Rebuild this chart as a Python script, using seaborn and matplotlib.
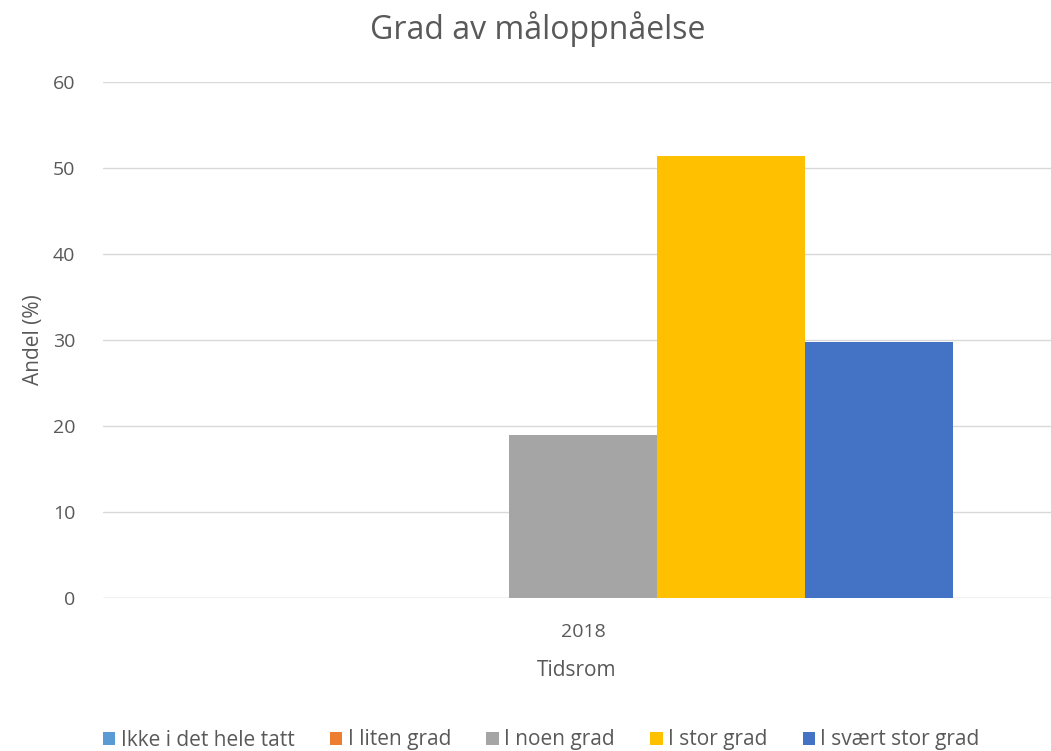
import matplotlib.pyplot as plt
import seaborn as sns
import pandas as pd

# data
periode = ["2018"]
grader = ["Ikke i det hele tatt", "I liten grad", "I noen grad", "I stor grad", "I svært stor grad"]
andel = [0.0, 0.0, 18.9, 51.4, 29.8]
farger = ["#5B9BD5", "#ED7D31", "#A5A5A5", "#FFC000", "#4472C4"]

df = pd.DataFrame({"Tidsrom": periode * len(grader), "Grad": grader, "Andel": andel})

sns.set_style("white")
plt.rcParams['font.family'] = ['Open Sans', 'DejaVu Sans']
tekst = "#595959"

fig = plt.figure(figsize=(10.51, 7.51), dpi=100)
ax = fig.add_axes([103 / 1051, 1 - 598 / 751, 1 - 103 / 1051, (598 - 82) / 751])

sns.barplot(data=df, x="Tidsrom", y="Andel", hue="Grad", hue_order=grader,
            palette=farger, width=0.8, saturation=1, linewidth=0, ax=ax)

ax.set_ylim(0, 60)
ax.set_yticks(range(0, 61, 10))
ax.set_xlim(-0.519, 0.506)
ax.yaxis.grid(True, color="#D9D9D9", linewidth=1)
ax.set_axisbelow(True)
for s in ax.spines.values():
    s.set_visible(False)
ax.axhline(0, color="#D9D9D9", linewidth=1, zorder=0)

ax.tick_params(axis="both", length=0, labelsize=14, colors=tekst)
ax.tick_params(axis="y", pad=20)
ax.tick_params(axis="x", pad=18)
ax.set_ylabel("Andel (%)", fontsize=15, color=tekst, labelpad=6)
ax.set_xlabel("Tidsrom", fontsize=15, color=tekst, labelpad=14)
fig.suptitle("Grad av måloppnåelse", fontsize=23, color=tekst, x=0.512, y=0.985)

handles, labels = ax.get_legend_handles_labels()
ax.get_legend().remove()
fig.legend(handles, labels, loc="center", bbox_to_anchor=(0.515, 1 - 740 / 751), ncol=5,
           frameon=False, fontsize=15, handlelength=0.6, handleheight=0.6,
           handletextpad=0.25, columnspacing=1.7, labelcolor=tekst)

fig.savefig("out.png", dpi=100)
